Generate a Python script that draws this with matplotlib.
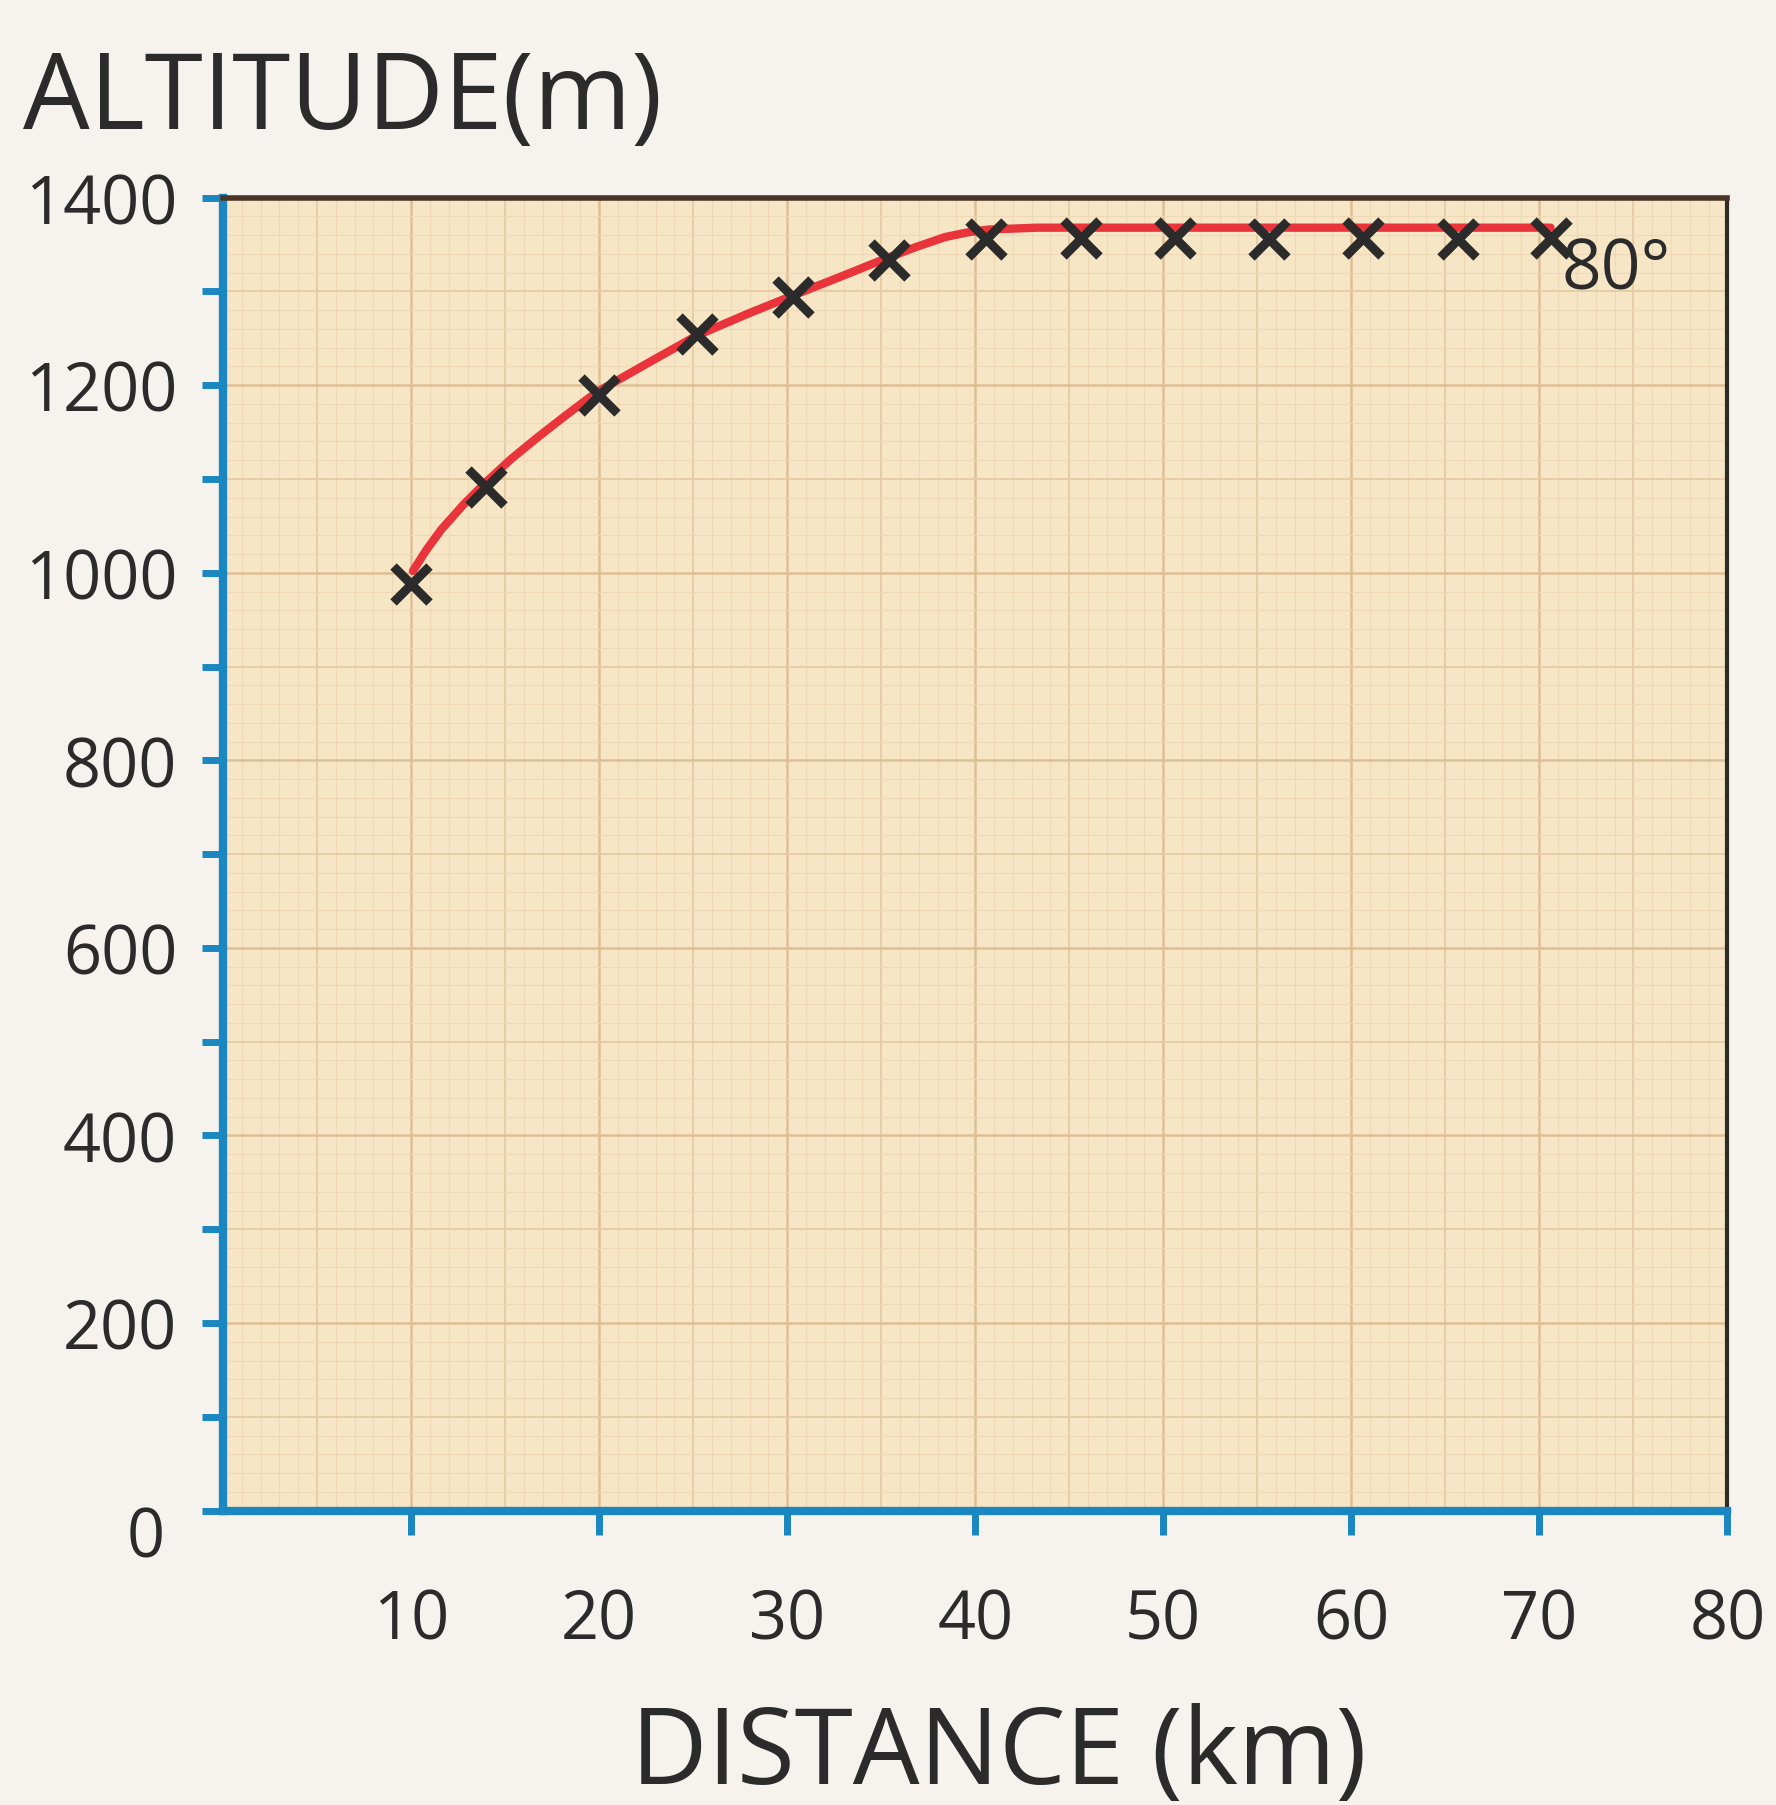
import numpy as np
import matplotlib
matplotlib.use('Agg')
import matplotlib.pyplot as plt
from matplotlib.transforms import ScaledTranslation

plt.rcParams['font.family'] = ['Open Sans', 'DejaVu Sans']

# points
distancia = [10, 14, 20, 25.2, 30.3, 35.4, 40.6, 45.6, 50.6, 55.6, 60.6, 65.7, 70.6]
altitud = [988, 1091, 1190, 1255, 1294, 1334, 1356, 1357, 1357, 1356, 1357, 1356, 1357]

# the red curve drawn through them
curva_x = [10.1, 10.8, 11.6, 12.8, 14.0, 15.3, 16.7, 18.3, 19.9, 22.8, 25.2, 28.0,
           30.6, 33.0, 35.1, 36.8, 38.4, 39.6, 40.7, 43.3, 50, 60, 70.6]
curva_y = [1002, 1024, 1046, 1073, 1097, 1121, 1144, 1169, 1193, 1226, 1253, 1277,
           1298, 1317, 1334, 1347, 1358, 1363, 1366, 1368, 1368, 1368, 1368]

ticks_x = [10, 20, 30, 40, 50, 60, 70, 80]
ticks_y = [0, 200, 400, 600, 800, 1000, 1200, 1400]
etiqueta_curva = '80°'

azul = '#1B87C0'
tinta = '#2B2B2B'

fig = plt.figure(figsize=(17.76, 18.06), dpi=100)
fig.patch.set_facecolor('#F6F3EE')
ax = fig.add_axes([0.1256, 0.163, 0.847, 0.727])
ax.set_facecolor('#F7E6C6')

ax.set_xlim(0, 80)
ax.set_ylim(0, 1400)

# graph paper
for x in np.arange(1, 80, 1):
    if x % 10 == 0:
        ax.axvline(x, color='#DDBF95', lw=1.8, zorder=1)
    elif x % 5 == 0:
        ax.axvline(x, color='#E6CBA3', lw=1.3, zorder=1)
    else:
        ax.axvline(x, color='#EED8B6', lw=0.8, zorder=1)
for y in np.arange(20, 1400, 20):
    if y % 200 == 0:
        ax.axhline(y, color='#DDBF95', lw=1.8, zorder=1)
    elif y % 100 == 0:
        ax.axhline(y, color='#E6CBA3', lw=1.3, zorder=1)
    else:
        ax.axhline(y, color='#EED8B6', lw=0.8, zorder=1)

ax.plot(curva_x, curva_y, color='#E8343A', lw=6, zorder=3,
        solid_capstyle='round', solid_joinstyle='round')
ax.plot(distancia, altitud, linestyle='none', marker='x', markersize=26,
        markeredgewidth=6.5, color=tinta, zorder=4)

ax.text(71.2, 1322, etiqueta_curva, fontsize=50, color=tinta,
        ha='left', va='center', zorder=5)

# spines
ax.spines['left'].set_color(azul)
ax.spines['left'].set_linewidth(6)
ax.spines['bottom'].set_color(azul)
ax.spines['bottom'].set_linewidth(6)
ax.spines['top'].set_color('#4A3428')
ax.spines['top'].set_linewidth(4)
ax.spines['right'].set_color('#2E2A28')
ax.spines['right'].set_linewidth(3)
for s in ax.spines.values():
    s.set_zorder(6)

ax.set_xticks(ticks_x)
ax.set_yticks(ticks_y)
ax.set_yticks(np.arange(100, 1400, 200), minor=True)
ax.tick_params(axis='x', which='major', direction='out', length=17, width=5,
               color=azul, labelsize=48, labelcolor=tinta, pad=38)
ax.tick_params(axis='y', which='both', direction='out', length=15, width=5,
               color=azul, labelsize=48, labelcolor=tinta, pad=18)

# the 0 label sits a bit lower and to the left
lbl0 = ax.yaxis.get_major_ticks()[0].label1
lbl0.set_transform(lbl0.get_transform() + ScaledTranslation(-0.12, -0.2, fig.dpi_scale_trans))

fig.text(0.013, 1 - 129 / 1806, 'ALTITUDE(m)', fontsize=76, color=tinta,
         ha='left', va='baseline')
fig.text(0.5625, 1 - 1784 / 1806, 'DISTANCE (km)', fontsize=76, color=tinta,
         ha='center', va='baseline')

fig.savefig('out.png', dpi=100, facecolor=fig.get_facecolor())
